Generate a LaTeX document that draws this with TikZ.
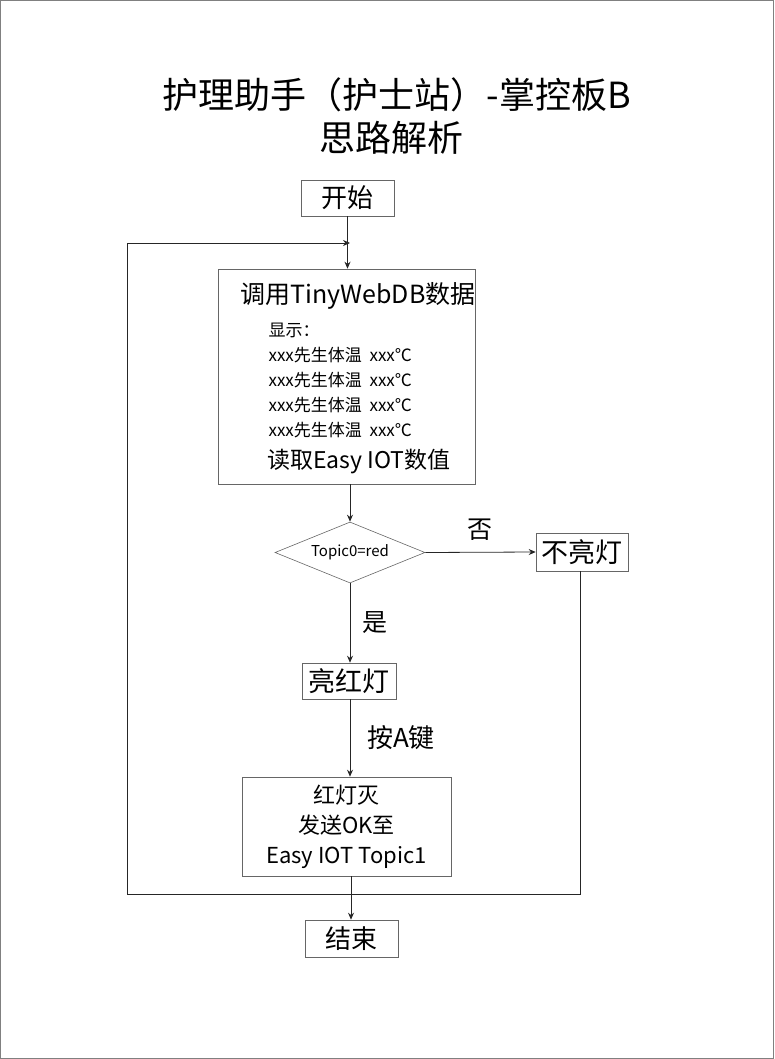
\documentclass[tikz,border=0pt]{standalone}
\usepackage{fontspec}
\setmainfont{Noto Sans CJK SC}
\usetikzlibrary{shapes.geometric,arrows.meta}
\newcommand{\fs}[1]{\fontsize{#1}{#1}\selectfont}
\begin{document}
\begin{tikzpicture}[x=1pt,y=-1pt,
 box/.style={draw=black!60,line width=0.6pt,inner sep=0pt},
 ln/.style={line width=0.8pt,black!85},
 ar/.style={ln,-{Stealth[length=7pt,width=6pt]}}]
\useasboundingbox (0,0) rectangle (774,1059);
\draw[black!50] (0.5,0.5) rectangle (773.5,1058.5);
\node[font=\fs{36}] (t1) at (397,95) {护理助手（护士站）-掌控板B};
\node[font=\fs{36}] (t2) at (391,138) {思路解析};
\node[box,minimum width=93pt,minimum height=36pt,font=\fs{26}] (start) at (347.5,198) {开始};
\node[box,minimum width=257pt,minimum height=215pt] (main) at (346.5,376.5) {};
\node[font=\fs{25}] (mh) at (358,296) {调用TinyWebDB数据};
\node[anchor=west,align=left,font=\fontsize{17}{25}\selectfont] (ml) at (265,380) {显示：\\xxx先生体温\ \ xxx℃\\xxx先生体温\ \ xxx℃\\xxx先生体温\ \ xxx℃\\xxx先生体温\ \ xxx℃};
\node[font=\fs{23}] (mf) at (359,462) {读取Easy IOT数值};
\node[diamond,draw=black!60,line width=0.6pt,minimum width=150pt,minimum height=61pt,aspect=2.46,inner sep=0pt,font=\fs{15}] (d) at (350,552.5) {Topic0=red};
\node[box,minimum width=92pt,minimum height=38pt,font=\fs{27}] (no) at (582,552) {不亮灯};
\node[font=\fs{25}] (nol) at (480,530) {否};
\node[font=\fs{25}] (yesl) at (375,623) {是};
\node[box,minimum width=94pt,minimum height=36pt,font=\fs{27}] (red) at (349,681) {亮红灯};
\node[font=\fs{26}] (keyl) at (401,738) {按A键};
\node[box,minimum width=209pt,minimum height=99pt,align=center,font=\fontsize{22}{30}\selectfont] (off) at (346.5,826.5) {红灯灭\\发送OK至\\Easy IOT Topic1};
\node[box,minimum width=93pt,minimum height=37pt,font=\fs{26}] (end) at (351.5,938.5) {结束};
\coordinate (j) at (350,243);
\coordinate (b) at (351,894);
\draw[ar] (start) -- (main.north -| start);
\draw[ar] (main.south -| d) -- (d.north);
\draw[ar] (d.east) -- (no.west);
\draw[ar] (d.south) -- (red.north -| d);
\draw[ar] (red.south -| d) -- (off.north -| d);
\draw[ar] (off.south -| b) -- (end.north -| b);
\draw[ln] (no.south -| 580,0) -- (580,894) -- (b);
\draw[ar] (b) -- (127,894) -- (127,243) -- (j);
\end{tikzpicture}
\end{document}
